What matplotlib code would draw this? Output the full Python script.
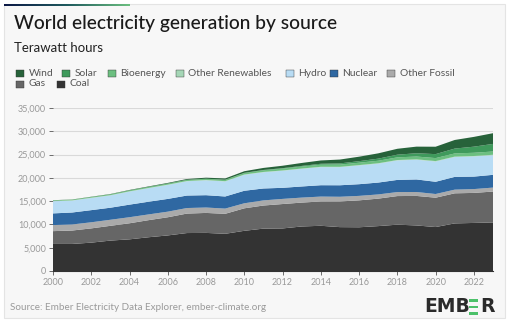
import matplotlib
matplotlib.use("Agg")
import matplotlib.pyplot as plt
import numpy as np
from matplotlib.patches import Rectangle
from matplotlib.ticker import FuncFormatter
from matplotlib.colors import LinearSegmentedColormap

years = list(range(2000, 2024))
coal = [5810, 5810, 6090, 6530, 6800, 7250, 7640, 8150, 8180, 7990, 8630, 9100, 9140, 9560, 9710, 9420, 9390, 9640, 9950, 9780, 9440, 10220, 10320, 10430]
gas = [2750, 2880, 3060, 3170, 3450, 3670, 3900, 4180, 4290, 4290, 4830, 4960, 5240, 5130, 5220, 5520, 5780, 5900, 6140, 6340, 6300, 6460, 6450, 6630]
other_fossil = [1300, 1300, 1310, 1300, 1300, 1230, 1200, 1190, 1160, 1120, 1080, 1100, 1100, 1070, 1050, 1000, 960, 900, 860, 840, 790, 790, 820, 850]
nuclear = [2510, 2570, 2610, 2590, 2700, 2730, 2740, 2680, 2650, 2600, 2690, 2560, 2380, 2390, 2440, 2470, 2510, 2550, 2610, 2700, 2630, 2740, 2680, 2740]
hydro = [2610, 2560, 2610, 2640, 2810, 2900, 3000, 3060, 3190, 3220, 3420, 3480, 3660, 3780, 3880, 3880, 4020, 4060, 4180, 4230, 4350, 4260, 4330, 4210]
other_renewables = [52, 53, 54, 55, 57, 58, 60, 63, 65, 67, 69, 70, 71, 73, 76, 79, 83, 86, 89, 91, 94, 95, 96, 98]
bioenergy = [140, 145, 160, 180, 200, 220, 235, 250, 270, 290, 330, 360, 390, 420, 450, 480, 510, 540, 570, 600, 640, 680, 690, 700]
solar = [1, 1, 2, 2, 3, 4, 5, 8, 12, 21, 32, 64, 100, 139, 198, 256, 329, 447, 574, 704, 851, 1040, 1310, 1630]
wind = [31, 38, 52, 63, 85, 104, 133, 171, 220, 277, 342, 437, 521, 635, 712, 828, 962, 1140, 1270, 1420, 1590, 1850, 2100, 2300]

labels = ["Coal", "Gas", "Other Fossil", "Nuclear", "Hydro", "Other Renewables", "Bioenergy", "Solar", "Wind"]
colors = ["#333333", "#666666", "#aaaaaa", "#2f68a2", "#b8dcf4", "#a5d6b6", "#6cbf80", "#3f9a5c", "#27623a"]
series = [coal, gas, other_fossil, nuclear, hydro, other_renewables, bioenergy, solar, wind]

plt.rcParams['font.family'] = ['Lato', 'DejaVu Sans']
fig = plt.figure(figsize=(5.12, 3.28), dpi=100)
fig.patch.set_facecolor("white")

W, H = 512, 328
def fx(x): return x / W
def fy(y): return 1 - y / H

# card
card = Rectangle((fx(4), fy(318)), fx(501), (314) / H, transform=fig.transFigure,
                 facecolor="#f7f7f7", edgecolor="#e4e4e4", linewidth=0.8, zorder=0)
fig.add_artist(card)
# gradient bar
grad = np.linspace(0, 1, 256).reshape(1, -1)
cmap = LinearSegmentedColormap.from_list("g", ["#0c1846", "#1f5a5e", "#6cbf80"])
gax = fig.add_axes([fx(4), fy(6), fx(126), 2.5 / H])
gax.imshow(grad, aspect="auto", cmap=cmap)
gax.axis("off")

fig.text(fx(14), fy(23), "World electricity generation by source", fontsize=13.8,
         color="#1a1a1a", va="center", ha="left", fontweight="medium")
fig.text(fx(14), fy(48), "Terawatt hours", fontsize=9.5, color="#222222", va="center", ha="left")

# legend
leg_order = ["Wind", "Solar", "Bioenergy", "Other Renewables", "Hydro", "Nuclear", "Other Fossil", "Gas", "Coal"]
leg_x = [16, 62, 108, 176, 286, 330, 387, 16, 57]
leg_y = [73, 73, 73, 73, 73, 73, 73, 84, 84]
for name, x, y in zip(leg_order, leg_x, leg_y):
    c = colors[labels.index(name)]
    fig.add_artist(Rectangle((fx(x), fy(y + 4)), fx(7.5), 7.5 / H, transform=fig.transFigure,
                             facecolor=c, edgecolor="#333333", linewidth=0.3))
    fig.text(fx(x + 12.5), fy(y), name, fontsize=7.4, color="#555555", va="center", ha="left")

ax = fig.add_axes([fx(53), fy(271), fx(440), 163 / H])
ax.set_facecolor("none")
ax.stackplot(years, *series, colors=colors, linewidth=0, zorder=2)
ax.set_xlim(2000, 2023)
ax.set_ylim(0, 35000)
ax.set_yticks(range(0, 35001, 5000))
ax.yaxis.set_major_formatter(FuncFormatter(lambda v, p: f"{int(v):,}"))
ax.set_xticks(range(2000, 2023, 2))
ax.grid(axis="y", color="#d9d9d9", linewidth=0.8, zorder=0)
ax.set_axisbelow(True)
for s in ["top", "right"]:
    ax.spines[s].set_visible(False)
ax.spines["left"].set_visible(False)
ax.spines["bottom"].set_color("#333333")
ax.spines["bottom"].set_linewidth(0.8)
ax.tick_params(axis="both", labelsize=6.5, colors="#999999", length=3, width=0.6, pad=2)
ax.tick_params(axis="x", color="#555555")
ax.tick_params(axis="y", length=3, color="#555555")

fig.text(fx(10), fy(308), "Source: Ember Electricity Data Explorer, ember-climate.org",
         fontsize=7.1, color="#9a9a9a", va="center", ha="left")

# EMBER logo
fig.text(fx(424), fy(307), "EMB", fontsize=13.5, fontweight="bold", color="#2a2a2a",
         va="center", ha="left", family=["DejaVu Sans"])
for dy in [-6.5, 0, 6.5]:
    fig.add_artist(Rectangle((fx(468.5), fy(307 + dy + 1.3)), fx(9.5), 2.6 / H,
                             transform=fig.transFigure, facecolor="#4cc16a", edgecolor="none"))
fig.text(fx(480), fy(307), "R", fontsize=13.5, fontweight="bold", color="#2a2a2a",
         va="center", ha="left", family=["DejaVu Sans"])

fig.savefig("out.png", dpi=100, facecolor=fig.get_facecolor())
